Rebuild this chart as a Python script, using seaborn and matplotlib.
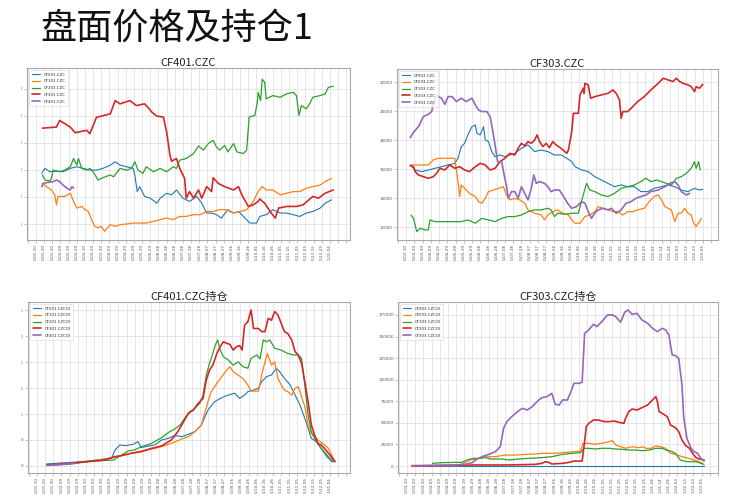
import numpy as np
import matplotlib
matplotlib.use("Agg")
import matplotlib.pyplot as plt
from matplotlib.patches import Rectangle
import seaborn as sns

# ---------------- data ----------------
slide_title = "盘面价格及持仓1"

left_tick_labels = ["0-01-10", "0-01-20", "0-01-30", "0-02-09", "0-02-19", "0-02-29", "0-03-10",
                    "0-03-20", "0-03-30", "0-04-09", "0-04-19", "0-04-29", "0-05-09", "0-05-19",
                    "0-05-29", "0-06-08", "0-06-18", "0-06-28", "0-07-08", "0-07-18", "0-07-28",
                    "0-08-07", "0-08-17", "0-08-27", "0-09-06", "0-09-16", "0-09-26", "0-10-06",
                    "0-10-16", "0-10-26", "0-11-05", "0-11-15", "0-11-25", "0-12-05", "0-12-15",
                    "0-12-25", "1-01-04"]
right_tick_labels = ["0-03-10", "0-03-20", "0-03-30", "0-04-09", "0-04-19", "0-04-29", "0-05-09",
                     "0-05-19", "0-05-29", "0-06-08", "0-06-18", "0-06-28", "0-07-08", "0-07-18",
                     "0-07-28", "0-08-07", "0-08-17", "0-08-27", "0-09-06", "0-09-16", "0-09-26",
                     "0-10-06", "0-10-16", "0-10-26", "0-11-05", "0-11-15", "0-11-25", "0-12-05",
                     "0-12-15", "0-12-25", "1-01-04", "1-01-14", "1-01-24", "1-02-03", "1-02-13",
                     "1-02-23", "1-03-05"]

# x = days after the first labelled tick of each chart, y = value
cf001_price = [(7, 15750), (11, 16120), (17, 15870), (25, 15920), (33, 15870), (42, 16120), (50, 16240),
               (58, 16120), (66, 15990), (74, 15990), (82, 16120), (91, 16360), (97, 16610), (103, 16360),
               (111, 16240), (119, 16120), (121, 15630), (124, 14400), (127, 14770), (133, 14040),
               (140, 13910), (148, 13540), (152, 13910), (160, 14280), (166, 14160), (172, 14520),
               (180, 13910), (188, 13670), (197, 14040), (203, 13540), (209, 12810), (215, 12810),
               (221, 12690), (227, 12440), (235, 13060), (242, 12810), (248, 12930), (254, 12560),
               (262, 12070), (270, 12070), (274, 12560), (282, 12690), (290, 13060), (299, 12810),
               (307, 12810), (315, 12690), (323, 12560), (331, 12810), (339, 12930), (348, 13180),
               (354, 13540), (362, 13790)]
cf101_price = [(8, 15010), (13, 14770), (19, 14520), (23, 14160), (25, 13420), (27, 14040), (35, 14040),
               (42, 14280), (46, 13670), (50, 13180), (56, 13300), (60, 13060), (64, 12930), (68, 12320),
               (72, 11830), (76, 11710), (80, 11830), (84, 11460), (91, 11950), (97, 11830), (103, 11950),
               (111, 12000), (119, 12070), (127, 12070), (135, 12070), (144, 12200), (152, 12320),
               (160, 12440), (168, 12320), (176, 12560), (184, 12560), (193, 12690), (201, 12690),
               (209, 12930), (217, 12930), (225, 13060), (233, 13060), (242, 12810), (250, 12930),
               (258, 13060), (266, 13670), (272, 14400), (277, 14770), (282, 14520), (290, 14520),
               (299, 14160), (307, 14280), (315, 14400), (323, 14400), (331, 14650), (339, 14770),
               (348, 14890), (354, 15140), (358, 15260), (362, 15380)]
cf201_price = [(8, 15630), (11, 15260), (17, 15190), (19, 15380), (21, 15990), (29, 15870), (35, 15990),
               (42, 16240), (46, 16850), (50, 16360), (52, 16850), (56, 16120), (62, 15990), (66, 16120),
               (70, 15870), (76, 15260), (82, 15430), (91, 15630), (95, 15500), (103, 16120), (111, 15990),
               (117, 16120), (121, 16610), (125, 15990), (131, 15750), (135, 16240), (144, 15870),
               (152, 16120), (160, 15870), (168, 16240), (172, 16120), (176, 16730), (184, 16850),
               (193, 17220), (199, 17780), (205, 17470), (211, 17960), (217, 18200), (221, 17710),
               (225, 17470), (231, 17830), (235, 17340), (242, 17960), (246, 17340), (254, 17220),
               (258, 17470), (261, 19920), (268, 20040), (271, 21020), (272, 21760), (275, 21140),
               (277, 22730), (280, 22490), (282, 21270), (290, 21510), (299, 21390), (307, 21640),
               (315, 21760), (319, 21510), (322, 20040), (325, 20770), (331, 20530), (335, 20900),
               (339, 21390), (348, 21510), (354, 21640), (358, 22120), (364, 22200)]
cf301_price = [(8, 19100), (25, 19180), (29, 19670), (42, 19180), (48, 18760), (62, 18940), (66, 18690),
               (74, 19900), (91, 20160), (97, 21140), (103, 20900), (115, 21140), (123, 20770), (133, 20900),
               (137, 20650), (142, 20280), (148, 19990), (156, 19920), (160, 18810), (164, 17100),
               (166, 16650), (172, 16850), (176, 16120), (182, 15380), (184, 13910), (188, 14400),
               (193, 13910), (199, 14520), (203, 13910), (209, 14770), (215, 14400), (217, 15430),
               (223, 15010), (231, 14770), (242, 14520), (248, 14770), (252, 14160), (260, 13300),
               (266, 13420), (272, 13670), (274, 13860), (280, 13540), (288, 12810), (293, 12440),
               (297, 13180), (307, 13300), (319, 13300), (327, 13420), (339, 14040), (346, 13910),
               (354, 14280), (364, 14520)]
cf401_price = [(7, 14770), (9, 15010), (15, 15090), (21, 15140), (25, 15260), (29, 15140), (33, 14890),
               (38, 14650), (42, 14520), (44, 14770), (46, 14650)]

cf903_price = [(7, 16180), (11, 15950), (19, 15840), (27, 15950), (35, 16070), (43, 16180), (51, 16300),
               (59, 16410), (63, 16760), (67, 17560), (71, 17790), (75, 18370), (80, 18940), (84, 19060),
               (86, 18480), (90, 18370), (94, 18940), (96, 18020), (100, 17910), (104, 17220), (108, 16870),
               (114, 16990), (120, 16870), (126, 16990), (132, 17100), (140, 17450), (148, 17680),
               (156, 17220), (164, 17330), (172, 17220), (180, 16990), (188, 16990), (195, 16760),
               (201, 16530), (205, 16180), (213, 15950), (221, 15840), (229, 15490), (237, 15260),
               (245, 15030), (253, 14800), (261, 14920), (269, 14800), (277, 14800), (285, 14460),
               (293, 14460), (301, 14690), (310, 14800), (318, 14920), (326, 14800), (334, 14570),
               (342, 14460), (350, 14690), (356, 14570), (360, 14620)]
cf003_price = [(5, 16300), (15, 16300), (27, 16300), (33, 16640), (39, 16760), (59, 16760), (61, 15950),
               (63, 15150), (65, 14120), (67, 14920), (71, 14690), (77, 14340), (84, 14120), (88, 13770),
               (92, 13660), (96, 14000), (100, 14460), (106, 14570), (112, 14690), (118, 14800),
               (122, 14230), (126, 13890), (132, 14000), (138, 13890), (144, 13660), (148, 13200),
               (156, 12970), (164, 12850), (168, 12510), (172, 12850), (178, 13080), (184, 13200),
               (190, 12970), (197, 12850), (201, 12510), (205, 12280), (211, 12280), (217, 12740),
               (223, 12850), (229, 13080), (233, 13430), (239, 13310), (245, 13200), (251, 13080),
               (257, 13080), (263, 12850), (269, 13080), (275, 13080), (281, 13200), (289, 13310),
               (295, 13770), (301, 14120), (306, 14230), (310, 13890), (314, 13430), (318, 13310),
               (322, 13200), (326, 12390), (330, 12970), (334, 12970), (338, 13310), (342, 12970),
               (346, 12850), (349, 12280), (352, 12050), (356, 12390), (358, 12620)]
cf103_price = [(6, 12850), (9, 12620), (13, 11700), (17, 11930), (23, 11820), (27, 11820), (29, 12510),
               (35, 12390), (43, 12390), (51, 12390), (59, 12390), (67, 12390), (75, 12510), (84, 12280),
               (92, 12620), (100, 12510), (108, 12390), (116, 12620), (124, 12740), (132, 12740),
               (140, 12850), (148, 13080), (156, 13200), (164, 13200), (172, 13310), (176, 13200),
               (180, 12740), (184, 12970), (193, 12900), (201, 12970), (209, 12970), (215, 14230),
               (219, 15030), (223, 14570), (229, 14460), (237, 14230), (245, 14120), (253, 14340),
               (261, 14690), (269, 14800), (277, 14920), (285, 15150), (291, 15380), (297, 15150),
               (304, 15260), (310, 15150), (316, 15030), (322, 14920), (328, 15380), (334, 15490),
               (340, 15720), (346, 16070), (350, 16530), (352, 16070), (355, 16530), (357, 15950)]
cf203_price = [(5, 16250), (9, 16180), (11, 15840), (15, 15610), (21, 15490), (27, 15380), (33, 15490),
               (37, 15720), (41, 16070), (47, 15950), (53, 16300), (59, 16070), (65, 16180), (71, 15950),
               (77, 15840), (84, 16180), (90, 16410), (96, 16300), (102, 15950), (108, 16070), (114, 16530),
               (120, 16760), (126, 17100), (132, 16990), (136, 17450), (140, 17790), (144, 17630),
               (148, 17910), (152, 17790), (156, 18020), (159, 18370), (162, 17910), (166, 17560),
               (170, 17790), (174, 17490), (178, 17910), (182, 17680), (188, 17450), (195, 17100),
               (197, 17330), (201, 18600), (203, 19860), (209, 19860), (211, 21130), (215, 21590),
               (216, 21240), (217, 21930), (221, 21820), (224, 20900), (229, 21010), (237, 21130),
               (245, 21240), (251, 21470), (255, 21240), (259, 20780), (261, 19520), (263, 19980),
               (269, 19980), (275, 20320), (281, 20670), (289, 21010), (297, 21470), (306, 21930),
               (312, 22280), (318, 22160), (324, 22050), (328, 22280), (332, 22050), (336, 21930),
               (342, 21820), (346, 21700), (350, 21360), (352, 21700), (356, 21590), (360, 21860)]
cf303_price = [(5, 18180), (9, 18550), (15, 18940), (21, 19630), (27, 19790), (31, 19980), (34, 20670),
               (37, 21080), (43, 20900), (47, 20480), (51, 21010), (56, 21010), (61, 20670), (67, 20900),
               (73, 20670), (80, 20900), (84, 20440), (88, 20090), (92, 19980), (98, 19980), (102, 19630),
               (105, 18710), (108, 17680), (111, 16530), (116, 16530), (119, 15610), (122, 14800),
               (124, 14000), (128, 14460), (132, 14460), (136, 14000), (140, 14800), (144, 14340),
               (148, 13890), (152, 14690), (155, 15610), (158, 15030), (162, 15150), (168, 15030),
               (172, 14800), (176, 14460), (180, 14570), (186, 14570), (190, 14230), (196, 13660),
               (201, 13310), (207, 13430), (213, 13770), (217, 13660), (221, 13080), (225, 12620),
               (229, 12970), (233, 13200), (239, 13310), (245, 13200), (249, 13310), (255, 12970),
               (261, 13200), (267, 13660), (273, 13770), (279, 14000), (285, 14120), (291, 14230),
               (297, 14460), (306, 14570), (314, 14800), (320, 15030), (326, 15150), (330, 14920),
               (334, 14460), (340, 14230), (344, 14340)]

cf001_oi = [(12, 8000), (43, 14000), (63, 19000), (83, 27000), (92, 32000), (96, 62000), (102, 81000),
            (108, 78000), (118, 83000), (124, 94000), (128, 71000), (137, 77000), (145, 81000),
            (153, 100000), (161, 106000), (169, 117000), (178, 113000), (186, 122000), (194, 132000),
            (202, 158000), (210, 215000), (218, 247000), (227, 263000), (235, 273000), (243, 280000),
            (249, 260000), (255, 273000), (259, 286000), (266, 292000), (272, 299000), (276, 324000),
            (282, 344000), (288, 350000), (294, 376000), (298, 363000), (304, 337000), (311, 312000),
            (317, 273000), (323, 235000), (329, 183000), (333, 145000), (337, 106000), (343, 94000),
            (349, 68000), (356, 36000), (362, 17000), (366, 17000)]
cf101_oi = [(12, 3000), (43, 10000), (63, 17000), (83, 26000), (104, 40000), (124, 55000), (145, 68000),
            (157, 78000), (165, 87000), (178, 104000), (186, 113000), (194, 132000), (202, 158000),
            (210, 247000), (214, 286000), (221, 318000), (227, 344000), (233, 369000), (237, 382000),
            (241, 363000), (247, 350000), (253, 337000), (259, 312000), (263, 288000), (272, 288000),
            (276, 350000), (279, 388000), (283, 433000), (288, 388000), (292, 401000), (296, 337000),
            (300, 312000), (304, 292000), (308, 286000), (313, 273000), (317, 299000), (321, 305000),
            (325, 267000), (329, 228000), (333, 158000), (337, 126000), (341, 113000), (345, 100000),
            (351, 87000), (358, 68000), (362, 42000), (366, 17000)]
cf201_oi = [(12, 4000), (43, 10000), (63, 17000), (83, 21000), (94, 23000), (104, 42000), (112, 58000),
            (120, 62000), (128, 74000), (141, 87000), (153, 109000), (163, 132000), (169, 142000),
            (176, 158000), (182, 186000), (188, 209000), (194, 222000), (200, 241000), (204, 273000),
            (208, 350000), (212, 395000), (216, 433000), (219, 465000), (222, 485000), (225, 446000),
            (229, 420000), (235, 408000), (241, 388000), (247, 401000), (253, 382000), (259, 376000),
            (263, 414000), (270, 427000), (274, 412000), (278, 485000), (282, 478000), (286, 485000),
            (292, 453000), (300, 446000), (308, 433000), (315, 427000), (321, 427000), (325, 414000),
            (329, 312000), (333, 196000), (337, 132000), (341, 106000), (349, 68000), (358, 36000),
            (364, 17000), (366, 17000)]
cf301_oi = [(12, 3000), (43, 10000), (63, 17000), (83, 23000), (96, 36000), (104, 40000), (116, 49000),
            (128, 55000), (141, 68000), (153, 77000), (165, 100000), (173, 132000), (180, 170000),
            (186, 203000), (192, 215000), (198, 241000), (204, 260000), (208, 331000), (212, 369000),
            (216, 388000), (221, 433000), (223, 446000), (225, 459000), (229, 478000), (233, 472000),
            (237, 468000), (241, 446000), (245, 459000), (249, 463000), (252, 446000), (255, 542000),
            (259, 555000), (263, 600000), (266, 529000), (272, 529000), (276, 517000), (280, 517000),
            (284, 568000), (288, 561000), (292, 594000), (296, 581000), (300, 549000), (304, 517000),
            (308, 510000), (313, 485000), (317, 440000), (321, 427000), (325, 395000), (329, 324000),
            (333, 247000), (337, 158000), (341, 119000), (345, 87000), (349, 81000), (353, 68000),
            (360, 42000), (366, 17000)]
cf401_oi = [(12, 2000), (34, 6000), (47, 10000)]

cf903_oi = [(6, 300), (100, 300), (200, 300), (300, 300), (363, 300)]
cf003_oi = [(6, 400), (63, 400), (77, 7000), (84, 8100), (96, 10800), (108, 10800), (120, 12700),
            (133, 12700), (145, 13500), (157, 13900), (165, 14700), (181, 14700), (194, 15800),
            (206, 16600), (212, 17400), (215, 26300), (222, 26300), (230, 25100), (238, 26300),
            (247, 28200), (251, 29400), (255, 24300), (261, 22400), (267, 20500), (275, 22400),
            (283, 21200), (289, 22400), (292, 20500), (298, 20500), (304, 23200), (310, 22400),
            (316, 20500), (322, 14700), (328, 13500), (336, 10800), (347, 8100), (355, 5800), (361, 3100)]
cf103_oi = [(31, 3100), (43, 3900), (59, 4200), (67, 4200), (73, 7000), (82, 8900), (88, 8900), (96, 9700),
            (102, 8100), (116, 8100), (124, 7000), (137, 8100), (149, 8900), (165, 9700), (177, 10800),
            (190, 13500), (202, 14700), (212, 15500), (216, 20500), (222, 20500), (230, 19700),
            (238, 20500), (247, 20500), (255, 19700), (263, 19300), (271, 18500), (279, 18500),
            (287, 17800), (296, 18500), (304, 20500), (312, 20500), (316, 18500), (322, 17400),
            (328, 14700), (334, 7000), (342, 5000), (353, 5000), (359, 3100), (363, 1900)]
cf203_oi = [(6, 400), (84, 1200), (124, 1200), (157, 1900), (165, 3100), (169, 5000), (173, 4200),
            (177, 2300), (190, 3100), (198, 4200), (204, 5800), (214, 5800), (217, 28200), (219, 45600),
            (222, 49400), (228, 53300), (234, 53300), (241, 51400), (247, 51400), (253, 52100),
            (259, 50600), (265, 49400), (267, 55200), (271, 63000), (275, 66000), (281, 64900),
            (287, 67600), (294, 70700), (300, 76500), (304, 80400), (306, 74600), (308, 63000),
            (312, 61000), (318, 57200), (322, 47500), (328, 44400), (332, 39800), (336, 30100),
            (340, 24300), (345, 20500), (349, 14700), (353, 9700), (357, 8100), (363, 7000)]
cf303_oi = [(6, 0), (27, 400), (43, 800), (59, 1200), (71, 2000), (80, 4000), (84, 7000), (92, 11000),
            (100, 13500), (108, 16600), (114, 22400), (118, 43700), (122, 51400), (128, 57200),
            (135, 63000), (141, 66800), (147, 64900), (153, 68800), (161, 76500), (165, 79200),
            (171, 80400), (177, 84200), (181, 71500), (186, 70700), (190, 76500), (196, 76500),
            (200, 85400), (204, 95800), (210, 95800), (214, 97000), (217, 153700), (222, 157600),
            (228, 164200), (232, 161500), (238, 167300), (245, 175000), (251, 175000), (255, 173100),
            (261, 166500), (266, 178100), (270, 180800), (275, 175800), (281, 176900), (287, 169200),
            (294, 165300), (300, 159500), (306, 155700), (312, 159500), (316, 157600), (320, 151800),
            (324, 128600), (328, 127900), (332, 124800), (336, 93900), (338, 57200), (342, 32100),
            (347, 20500), (351, 16600), (355, 14700), (359, 8900), (363, 5800)]

left_price_names = ["CF001.CZC", "CF101.CZC", "CF201.CZC", "CF301.CZC", "CF401.CZC"]
right_price_names = ["CF903.CZC", "CF003.CZC", "CF103.CZC", "CF203.CZC", "CF303.CZC"]
left_oi_names = ["CF001.CZCOI", "CF101.CZCOI", "CF201.CZCOI", "CF301.CZCOI", "CF401.CZCOI"]
right_oi_names = ["CF903.CZCOI", "CF003.CZCOI", "CF103.CZCOI", "CF203.CZCOI", "CF303.CZCOI"]

price_ticks = [12000, 14000, 16000, 18000, 20000, 22000]
left_oi_ticks = [0, 100000, 200000, 300000, 400000, 500000, 600000]
right_oi_ticks = [0, 25000, 50000, 75000, 100000, 125000, 150000, 175000]

# ---------------- style ----------------
sns.set_style("whitegrid", {"axes.edgecolor": "#a9a9a9", "grid.color": "#e2e2e2",
                            "xtick.bottom": True, "ytick.left": True})
plt.rcParams["font.family"] = ["DejaVu Sans", "Noto Sans CJK SC"]
plt.rcParams["axes.linewidth"] = 0.8
plt.rcParams["grid.linewidth"] = 0.6

colors = ["#1f77b4", "#ff7f0e", "#2ca02c", "#d62728", "#9467bd"]
widths = [0.8, 0.9, 0.9, 1.2, 1.2]

W, H = 731, 503
fig = plt.figure(figsize=(W / 100, H / 100), dpi=100)
fig.patch.set_facecolor("white")


def px_axes(l, t, r, b):
    return fig.add_axes([l / W, 1 - b / H, (r - l) / W, (b - t) / H])


panels = [
    dict(box=(27, 68, 350, 240), title="CF401.CZC", names=left_price_names,
         data=[cf001_price, cf101_price, cf201_price, cf301_price, cf401_price],
         yticks=price_ticks, ylim=(10815, 23555), xlim=(-11, 384.5), labels=left_tick_labels),
    dict(box=(397, 69, 718, 240), title="CF303.CZC", names=right_price_names,
         data=[cf903_price, cf003_price, cf103_price, cf203_price, cf303_price],
         yticks=price_ticks, ylim=(11124, 22917), xlim=(-11, 378.5), labels=right_tick_labels),
    dict(box=(28, 302, 350, 473), title="CF401.CZC持仓", names=left_oi_names,
         data=[cf001_oi, cf101_oi, cf201_oi, cf301_oi, cf401_oi],
         yticks=left_oi_ticks, ylim=(-27000, 631000), xlim=(-11, 384.5), labels=left_tick_labels),
    dict(box=(398, 302, 718, 473), title="CF303.CZC持仓", names=right_oi_names,
         data=[cf903_oi, cf003_oi, cf103_oi, cf203_oi, cf303_oi],
         yticks=right_oi_ticks, ylim=(-8100, 190000), xlim=(-11, 380), labels=right_tick_labels),
]

for p in panels:
    ax = px_axes(*p["box"])
    for name, series, c, lw in zip(p["names"], p["data"], colors, widths):
        xs = np.array([d for d, _ in series], dtype=float)
        ys = np.array([v for _, v in series], dtype=float)
        sns.lineplot(x=xs, y=ys, ax=ax, color=c, linewidth=lw, label=name,
                     estimator=None, sort=False)
    ticks = np.arange(-10, 381, 10)
    tick_text = [""] + list(p["labels"]) + [""] * (len(ticks) - 1 - len(p["labels"]))
    ax.set_xticks(ticks)
    ax.set_xticklabels(tick_text, rotation=90)
    ax.set_xlim(*p["xlim"])
    ax.set_yticks(p["yticks"])
    ax.set_yticklabels([str(v) for v in p["yticks"]])
    ax.set_ylim(*p["ylim"])
    ax.tick_params(axis="both", labelsize=3, length=2, width=0.5, pad=1,
                   color="#a9a9a9", labelcolor="#555555")
    ax.set_title(p["title"], fontsize=8, pad=1.5, color="#222222",
                 family=["Noto Sans CJK SC", "DejaVu Sans"])
    ax.set_xlabel("")
    ax.set_ylabel("")
    leg = ax.legend(loc="upper left", fontsize=2.8, frameon=True, handlelength=2.2,
                    borderpad=0.6, labelspacing=0.7, handletextpad=0.8, borderaxespad=0.6)
    leg.get_frame().set_linewidth(0.4)
    leg.get_frame().set_edgecolor("#cccccc")

# the chart pictures on the slide are cut at their left edge
for (t, b) in [(55, 265), (285, 500)]:
    fig.add_artist(Rectangle((0, 1 - b / H), 21 / W, (b - t) / H, transform=fig.transFigure,
                             facecolor="white", edgecolor="none", zorder=20))

fig.text(40 / W, 1 - 29 / H, slide_title, fontsize=26, va="center", ha="left", color="#111111",
         family=["Noto Sans CJK SC", "DejaVu Sans"])

fig.savefig("out.png", dpi=100, facecolor="white")
